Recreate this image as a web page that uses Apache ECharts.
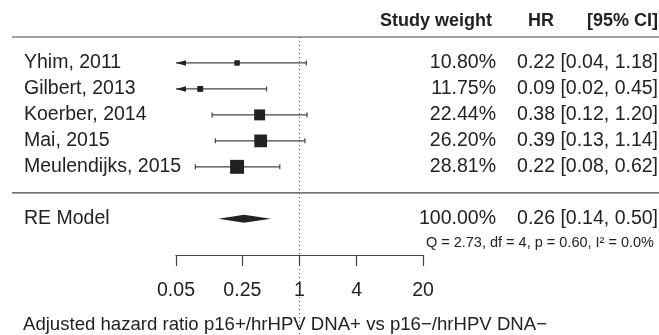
<!DOCTYPE html>
<html>
<head>
<meta charset="utf-8">
<script src="https://cdn.jsdelivr.net/npm/echarts@6/dist/echarts.min.js"></script>
<style>
  html, body { margin: 0; padding: 0; background: #fff; }
  #forest { width: 659px; height: 335px; }
</style>
</head>
<body>
<div id="forest"></div>
<script>
// studies, top to bottom
var studies = ['Yhim, 2011', 'Gilbert, 2013', 'Koerber, 2014', 'Mai, 2015', 'Meulendijks, 2015'];
var weights = [10.80, 11.75, 22.44, 26.20, 28.81];
var hr = [0.22, 0.09, 0.38, 0.39, 0.22];
var lower = [0.04, 0.02, 0.12, 0.13, 0.08];
var upper = [1.18, 0.45, 1.20, 1.14, 0.62];

// random effects summary
var reLabel = 'RE Model';
var reWeight = 100.00;
var reHr = 0.26;
var reLower = 0.14;
var reUpper = 0.50;
var reStats = 'Q = 2.73, df = 4, p = 0.60, I\u00b2 = 0.0%';

var tickValues = [0.05, 0.25, 1, 4, 20];
var tickLabels = ['0.05', '0.25', '1', '4', '20'];
var xTitle = 'Adjusted hazard ratio p16+/hrHPV DNA+ vs p16\u2212/hrHPV DNA\u2212';

var font = 'Liberation Sans, Arial, Helvetica, sans-serif';
var ink = '#222';
var lineInk = '#444';
var fs = 19.5;

var lg = function (v) { return Math.log(v) / Math.LN10; };
var xMin = lg(tickValues[0]);
var xMax = lg(tickValues[tickValues.length - 1]);
var fmt2 = function (v) { return v.toFixed(2); };
var ciText = function (e, l, u) { return fmt2(e) + ' [' + fmt2(l) + ', ' + fmt2(u) + ']'; };

function txt(x, y, s, align, size, weight) {
    return {
        type: 'text', x: x, y: y,
        style: {
            text: s, fill: ink, fontFamily: font, fontSize: size || fs,
            fontWeight: weight || 'normal', align: align, verticalAlign: 'middle'
        }
    };
}

// interval with caps, arrows where it runs off the axis
function ciLine(api, row, lo, hi) {
    var a = api.coord([Math.max(lo, xMin), row]);
    var b = api.coord([Math.min(hi, xMax), row]);
    var y = a[1];
    var st = { stroke: lineInk, lineWidth: 1.2 };
    var out = [{ type: 'line', shape: { x1: a[0], y1: y, x2: b[0], y2: y }, style: st }];
    if (lo < xMin) {
        out.push({ type: 'polygon', shape: { points: [[a[0], y], [a[0] + 10, y - 2.8], [a[0] + 10, y + 2.8]] }, style: { fill: ink } });
    } else {
        out.push({ type: 'line', shape: { x1: a[0], y1: y - 2.5, x2: a[0], y2: y + 2.5 }, style: st });
    }
    if (hi > xMax) {
        out.push({ type: 'polygon', shape: { points: [[b[0], y], [b[0] - 10, y - 2.8], [b[0] - 10, y + 2.8]] }, style: { fill: ink } });
    } else {
        out.push({ type: 'line', shape: { x1: b[0], y1: y - 2.5, x2: b[0], y2: y + 2.5 }, style: st });
    }
    return out;
}

var studyData = studies.map(function (s, i) {
    return [i, lg(lower[i]), lg(upper[i]), lg(hr[i]), weights[i]];
});
var reRow = studies.length + 1;

var myChart = echarts.init(document.getElementById('forest'));
var option = {
    animation: false,
    grid: { left: 176, right: 236, top: 37, bottom: 80 },
    xAxis: {
        type: 'value',
        min: xMin,
        max: xMax,
        splitLine: { show: false },
        axisLine: { show: true, onZero: false, lineStyle: { color: lineInk, width: 1.2 } },
        axisTick: { show: true, length: 11, lineStyle: { color: lineInk, width: 1.2 }, customValues: tickValues.map(lg) },
        axisLabel: {
            customValues: tickValues.map(lg),
            margin: 26,
            color: ink, fontFamily: font, fontSize: fs,
            formatter: function (v) {
                for (var i = 0; i < tickValues.length; i++) {
                    if (Math.abs(lg(tickValues[i]) - v) < 1e-6) return tickLabels[i];
                }
                return '';
            }
        }
    },
    yAxis: { type: 'value', inverse: true, min: -1, max: 7.395, show: false },
    graphic: [
        txt(492, 21, 'Study weight', 'right', 18, 'bold'),
        txt(541, 21, 'HR', 'center', 18, 'bold'),
        txt(658, 21, '[95% CI]', 'right', 18, 'bold'),
        txt(23, 325, xTitle, 'left', 18.6)
    ],
    series: [
        {
            // separators and reference line
            type: 'custom',
            clip: false,
            silent: true,
            data: [[0]],
            renderItem: function (params, api) {
                var yTop = api.coord([0, -1])[1];
                var ySep = api.coord([0, studies.length])[1];
                var xRef = api.coord([0, 0])[0];
                return {
                    type: 'group',
                    children: [
                        { type: 'line', shape: { x1: 12, y1: yTop, x2: 659, y2: yTop }, style: { stroke: lineInk, lineWidth: 1.2 } },
                        { type: 'line', shape: { x1: 12, y1: ySep, x2: 659, y2: ySep }, style: { stroke: lineInk, lineWidth: 1.2 } },
                        { type: 'line', shape: { x1: xRef, y1: yTop, x2: xRef, y2: 335 }, style: { stroke: lineInk, lineWidth: 1, lineDash: [1, 3] } }
                    ]
                };
            }
        },
        {
            type: 'custom',
            clip: false,
            silent: true,
            data: studyData,
            renderItem: function (params, api) {
                var i = params.dataIndex;
                var row = api.value(0);
                var est = api.coord([api.value(3), row]);
                var size = 0.4 + 0.47 * api.value(4);
                var kids = ciLine(api, row, api.value(1), api.value(2));
                kids.push({ type: 'rect', shape: { x: est[0] - size / 2, y: est[1] - size / 2, width: size, height: size }, style: { fill: ink } });
                kids.push(txt(24, est[1], studies[i], 'left'));
                kids.push(txt(496, est[1], weights[i].toFixed(2) + '%', 'right'));
                kids.push(txt(658, est[1], ciText(hr[i], lower[i], upper[i]), 'right'));
                return { type: 'group', children: kids };
            }
        },
        {
            type: 'custom',
            clip: false,
            silent: true,
            data: [[reRow, lg(reLower), lg(reUpper), lg(reHr)]],
            renderItem: function (params, api) {
                var row = api.value(0);
                var a = api.coord([api.value(1), row]);
                var b = api.coord([api.value(2), row]);
                var c = api.coord([api.value(3), row]);
                var h = 4;
                var yStats = api.coord([0, row + 0.93])[1];
                return {
                    type: 'group',
                    children: [
                        { type: 'polygon', shape: { points: [[a[0], c[1]], [c[0], c[1] - h], [b[0], c[1]], [c[0], c[1] + h]] }, style: { fill: ink } },
                        txt(24, c[1], reLabel, 'left'),
                        txt(496, c[1], reWeight.toFixed(2) + '%', 'right'),
                        txt(658, c[1], ciText(reHr, reLower, reUpper), 'right'),
                        txt(654, yStats, reStats, 'right', 14.5)
                    ]
                };
            }
        }
    ]
};
myChart.setOption(option);
</script>
</body>
</html>
